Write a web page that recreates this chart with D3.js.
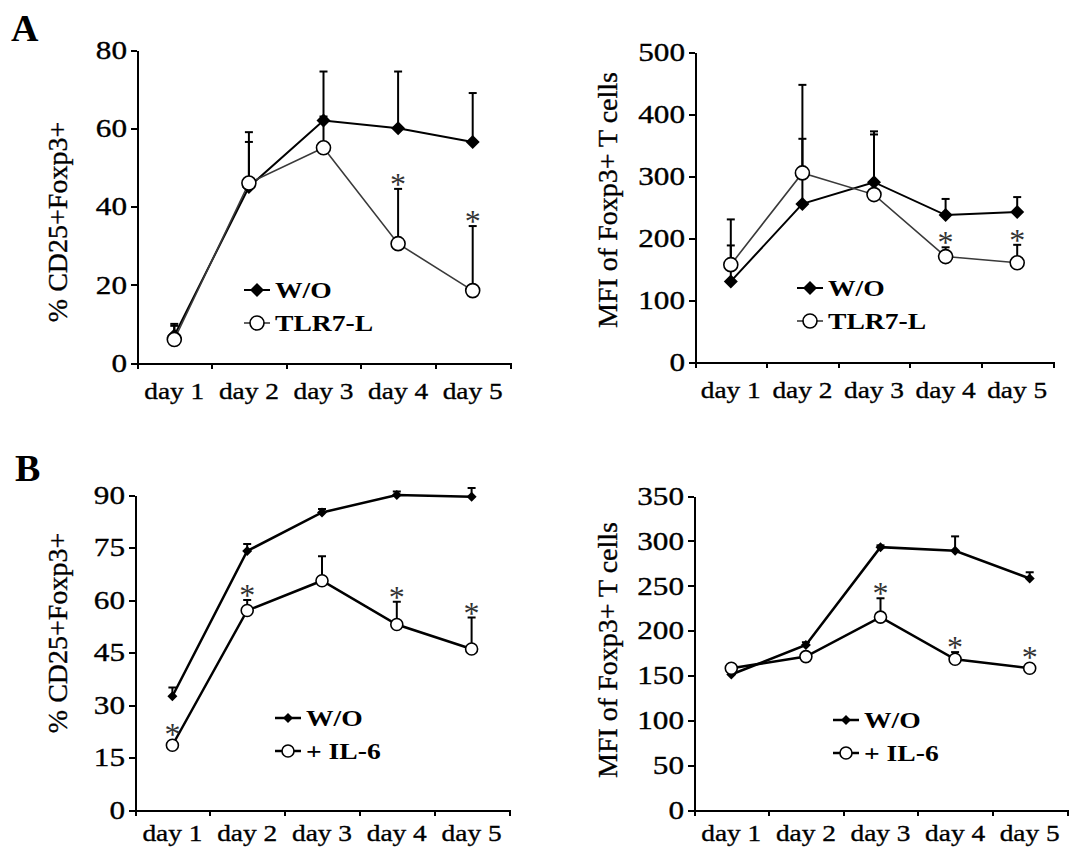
<!DOCTYPE html>
<html>
<head>
<script src="https://cdn.jsdelivr.net/npm/d3@7"></script>
<style>
  body { margin: 0; background: #fff; }
  svg text { font-family: "Liberation Serif", "Times New Roman", serif; fill: #000; }
  svg text.soft { stroke: #000; stroke-width: 0.35px; }
  .axis path, .axis line { stroke: #000; stroke-width: 2; fill: none; shape-rendering: crispEdges; }
</style>
</head>
<body>
<script>
var days = ["day 1", "day 2", "day 3", "day 4", "day 5"];

// A, left: % CD25+Foxp3+
var aPctWo = [7, 45, 62, 60, 56.5];
var aPctWoSd = [3, 14, 12.5, 14.5, 12.5];
var aPctTlr = [6, 46, 55, 30.5, 18.5];
var aPctTlrSd = [3.5, 10.5, 8, 14, 16.5];
var aPctSig = [0, 0, 0, 1, 1];

// A, right: MFI
var aMfiWo = [130, 255, 290, 237, 242];
var aMfiWoSd = [58, 105, 82, 26, 24];
var aMfiTlr = [157, 305, 270, 170, 160];
var aMfiTlrSd = [73, 142, 97, 15, 29];
var aMfiSig = [0, 0, 0, 1, 1];

// B, left: % CD25+Foxp3+
var bPctWo = [32.5, 74, 85, 90, 89.5];
var bPctWoSd = [2.5, 2, 1, 1, 2.5];
var bPctIl6 = [18.5, 57, 65.5, 53, 46];
var bPctIl6Sd = [0, 3, 7, 6.5, 9];
var bPctSig = [1, 1, 0, 1, 1];

// B, right: MFI
var bMfiWo = [151, 184, 293, 289, 258];
var bMfiWoSd = [0, 3, 2, 16, 7];
var bMfiIl6 = [158, 171, 215, 168, 158];
var bMfiIl6Sd = [0, 0, 21, 8, 3];
var bMfiSig = [0, 0, 1, 1, 1];

var svg = d3.select("body").append("svg")
  .attr("width", 1086)
  .attr("height", 850);

// the figure's serif is wider than Liberation Serif, so stretch text horizontally
function stretch(sel, sx) {
  sel.each(function() {
    var t = d3.select(this);
    var x0 = +t.attr("x") || 0;
    t.attr("x", x0 / sx).attr("transform", "scale(" + sx + ",1)");
  });
}

var panels = [
  { letter: "A", lx: 11, ly: 41, x0: 137, x1: 510, yb: 363, yt: 50, ticks: [0, 20, 40, 60, 80], pad: 19,
    title: "% CD25+Foxp3+", tx: 57, ty: 222, s1: aPctWo, e1: aPctWoSd, s2: aPctTlr, e2: aPctTlrSd, sig: aPctSig,
    name2: "TLR7-L", c2: "#3a3a3a", w1: 2, w2: 1.6, r: 7, d: 7, legX: 257, legY: 290 },
  { x0: 695, x1: 1053, yb: 362, yt: 52, ticks: [0, 100, 200, 300, 400, 500], pad: 19,
    title: "MFI of Foxp3+ T cells", tx: 607, ty: 200, s1: aMfiWo, e1: aMfiWoSd, s2: aMfiTlr, e2: aMfiTlrSd, sig: aMfiSig,
    name2: "TLR7-L", c2: "#3a3a3a", w1: 2, w2: 1.6, r: 7, d: 7, legX: 810, legY: 288 },
  { letter: "B", lx: 15, ly: 481, x0: 135, x1: 509, yb: 810, yt: 495, ticks: [0, 15, 30, 45, 60, 75, 90], pad: 14,
    title: "% CD25+Foxp3+", tx: 57, ty: 633, s1: bPctWo, e1: bPctWoSd, s2: bPctIl6, e2: bPctIl6Sd, sig: bPctSig,
    name2: "+ IL-6", c2: "#000", w1: 2.5, w2: 2.5, r: 6, d: 5, legX: 288, legY: 718 },
  { x0: 694, x1: 1067, yb: 810, yt: 496, ticks: [0, 50, 100, 150, 200, 250, 300, 350], pad: 14,
    title: "MFI of Foxp3+ T cells", tx: 607, ty: 650, s1: bMfiWo, e1: bMfiWoSd, s2: bMfiIl6, e2: bMfiIl6Sd, sig: bMfiSig,
    name2: "+ IL-6", c2: "#000", w1: 2.5, w2: 2.5, r: 6, d: 5, legX: 846, legY: 720 }
];

panels.forEach(function(p) {
  var g = svg.append("g");
  var maxV = p.ticks[p.ticks.length - 1];

  var x = d3.scaleBand().domain(days).range([p.x0, p.x1]);
  var xt = d3.scaleLinear().domain([0, 5]).range([p.x0, p.x1]);
  var y = d3.scaleLinear().domain([0, maxV]).range([p.yb, p.yt]);
  var cx = function(d, i) { return x(days[i]) + x.bandwidth() / 2; };

  // axes
  var ya = g.append("g").attr("class", "axis")
    .attr("transform", "translate(" + p.x0 + ",0)")
    .call(d3.axisLeft(y).tickValues(p.ticks).tickSize(6).tickSizeOuter(0).tickPadding(4));
  ya.selectAll("text").attr("class", "soft").style("font-size", "26px");
  stretch(ya.selectAll("text"), 1.2);

  g.append("g").attr("class", "axis")
    .attr("transform", "translate(0," + p.yb + ")")
    .call(d3.axisBottom(xt).tickValues([0, 1, 2, 3, 4, 5]).tickSize(6).tickSizeOuter(0).tickFormat(""));
  var xl = g.append("g")
    .attr("transform", "translate(0," + p.yb + ")")
    .call(d3.axisBottom(x).tickSize(0).tickPadding(p.pad));
  xl.select(".domain").remove();
  xl.selectAll("text").attr("class", "soft").style("font-size", "24px");
  stretch(xl.selectAll("text"), 1.14);

  // axis title
  g.append("text").attr("class", "soft")
    .attr("transform", "translate(" + p.tx + "," + p.ty + ") rotate(-90)")
    .attr("text-anchor", "middle")
    .attr("dy", "0.35em")
    .style("font-size", "28px")
    .text(p.title);

  if (p.letter) {
    g.append("text").attr("x", p.lx).attr("y", p.ly)
      .style("font-size", "38px").style("font-weight", "bold")
      .text(p.letter);
  }

  var line = d3.line().x(cx).y(function(d) { return y(d); });
  var series = [
    { v: p.s1, e: p.e1, c: "#000", w: p.w1 },
    { v: p.s2, e: p.e2, c: p.c2, w: p.w2 }
  ];

  // error bars (upper only)
  series.forEach(function(s) {
    var eb = g.append("g");
    s.v.forEach(function(v, i) {
      if (!s.e[i]) return;
      var xx = cx(v, i);
      eb.append("line").attr("x1", xx).attr("x2", xx).attr("y1", y(v)).attr("y2", y(v + s.e[i]))
        .attr("stroke", "#000").attr("stroke-width", 2);
      eb.append("line").attr("x1", xx - 4).attr("x2", xx + 4).attr("y1", y(v + s.e[i])).attr("y2", y(v + s.e[i]))
        .attr("stroke", "#000").attr("stroke-width", 2);
    });
  });

  series.forEach(function(s) {
    g.append("path").datum(s.v).attr("d", line)
      .attr("fill", "none").attr("stroke", s.c).attr("stroke-width", s.w);
  });

  var diamond = d3.symbol().type(d3.symbolSquare).size(p.d * p.d * 2);
  // closed diamonds
  g.selectAll(null).data(series[0].v).enter().append("path")
    .attr("d", diamond)
    .attr("transform", function(d, i) { return "translate(" + cx(d, i) + "," + y(d) + ") rotate(45)"; })
    .attr("fill", "#000");
  // open circles
  g.selectAll(null).data(series[1].v).enter().append("circle")
    .attr("cx", cx).attr("cy", function(d) { return y(d); }).attr("r", p.r)
    .attr("fill", "#fff").attr("stroke", "#000").attr("stroke-width", 1.6);

  // significance asterisks
  series[1].v.forEach(function(v, i) {
    if (!p.sig[i]) return;
    var top = Math.min(y(v + series[1].e[i]), y(v) - p.r);
    g.append("text").attr("x", cx(v, i)).attr("y", top + 6)
      .attr("text-anchor", "middle")
      .style("font-size", "32px").style("fill", "#333")
      .text("*");
  });

  // legend
  var lg = g.append("g").attr("transform", "translate(" + p.legX + "," + p.legY + ")");
  lg.append("line").attr("x1", -13).attr("x2", 13).attr("stroke", "#000").attr("stroke-width", p.w1);
  lg.append("path").attr("d", diamond).attr("transform", "rotate(45)").attr("fill", "#000");
  lg.append("text").attr("x", 18).attr("dy", "0.35em")
    .style("font-size", "23px").style("font-weight", "bold").text("W/O");
  var lg2 = g.append("g").attr("transform", "translate(" + p.legX + "," + (p.legY + 33) + ")");
  lg2.append("line").attr("x1", -13).attr("x2", 13).attr("stroke", p.c2).attr("stroke-width", p.w2);
  lg2.append("circle").attr("r", p.r).attr("fill", "#fff").attr("stroke", "#000").attr("stroke-width", 1.6);
  lg2.append("text").attr("x", 18).attr("dy", "0.35em")
    .style("font-size", "23px").style("font-weight", "bold").text(p.name2);
  stretch(lg.selectAll("text"), 1.2);
  stretch(lg2.selectAll("text"), 1.2);
});
</script>
</body>
</html>
